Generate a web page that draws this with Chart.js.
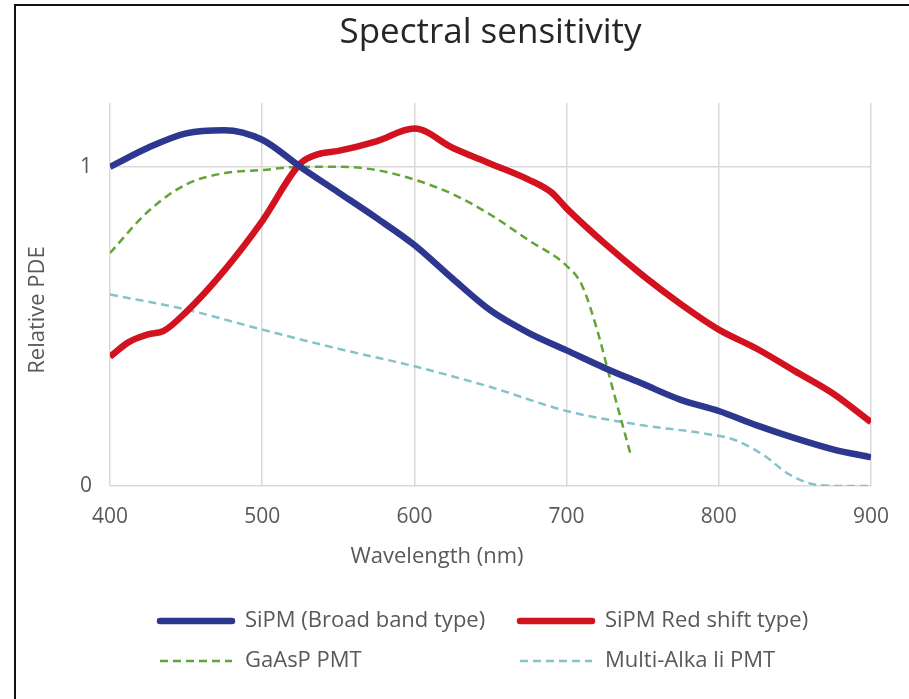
<!DOCTYPE html>
<html lang="en">
<head>
    <meta charset="UTF-8">
    <title>Spectral sensitivity</title>
    <script src="https://cdn.jsdelivr.net/npm/chart.js@4.4.0/dist/chart.umd.min.js"></script>
    <style>
        body { margin: 0; background: #fff; }
        #wrap { position: relative; width: 909px; height: 699px; }
        #frame { position: absolute; left: 14px; top: 4px; width: 900px; height: 700px;
                 border-left: 2px solid #111; border-top: 2px solid #111; pointer-events: none; }
    </style>
</head>
<body>
    <div id="wrap">
        <canvas id="chart"></canvas>
        <div id="frame"></div>
    </div>

    <script>
        var chartTitle = 'Spectral sensitivity';
        var xTitle = 'Wavelength (nm)';
        var yTitle = 'Relative PDE';
        var yTicks = [0, 1];

        var broadWl   = [400, 425, 450, 475, 500, 525, 550, 575, 600, 625, 650, 675, 700, 725, 750, 775, 800, 825, 850, 875, 900];
        var broadPde  = [1.0, 1.06, 1.105, 1.115, 1.085, 1.0, 0.92, 0.84, 0.755, 0.65, 0.55, 0.48, 0.425, 0.37, 0.32, 0.27, 0.235, 0.19, 0.15, 0.115, 0.09];

        var redWl     = [400, 412, 425, 435, 450, 475, 500, 525, 537, 550, 575, 600, 625, 650, 675, 690, 700, 725, 750, 775, 800, 825, 850, 875, 900];
        var redPde    = [0.405, 0.45, 0.475, 0.485, 0.545, 0.675, 0.83, 1.01, 1.04, 1.05, 1.08, 1.12, 1.06, 1.01, 0.96, 0.92, 0.87, 0.76, 0.66, 0.57, 0.49, 0.43, 0.36, 0.29, 0.2];

        var gaaspWl   = [400, 425, 450, 475, 500, 525, 550, 575, 600, 625, 650, 675, 700, 710, 720, 730, 742];
        var gaaspPde  = [0.73, 0.86, 0.945, 0.98, 0.99, 1.0, 1.0, 0.99, 0.96, 0.915, 0.85, 0.77, 0.69, 0.63, 0.49, 0.31, 0.1];

        var alkaliWl  = [400, 450, 500, 550, 600, 650, 700, 750, 790, 810, 830, 845, 860, 880, 900];
        var alkaliPde = [0.6, 0.553, 0.49, 0.43, 0.375, 0.31, 0.235, 0.19, 0.165, 0.145, 0.095, 0.04, 0.008, 0, 0];

        function toPoints(xs, ys) {
            return xs.map(function(x, i) { return { x: x, y: ys[i] }; });
        }

        Chart.defaults.font.family = '"Open Sans", sans-serif';
        Chart.defaults.color = '#595959';

        // axis titles and the two-column legend are drawn here
        var extras = {
            id: 'extras',
            afterDraw: function(chart) {
                var ctx = chart.ctx;
                ctx.save();
                ctx.fillStyle = '#595959';
                ctx.font = '22px "Open Sans", sans-serif';
                ctx.textAlign = 'center';
                ctx.textBaseline = 'middle';
                ctx.fillText(xTitle, 437, 557);

                ctx.save();
                ctx.translate(38, 310);
                ctx.rotate(-Math.PI / 2);
                ctx.fillText(yTitle, 0, 0);
                ctx.restore();

                ctx.textAlign = 'left';
                chart.data.datasets.forEach(function(ds, i) {
                    var x0 = (i % 2 === 0) ? 160 : 520;
                    var y = 621 + Math.floor(i / 2) * 40;
                    ctx.strokeStyle = ds.borderColor;
                    ctx.lineWidth = ds.borderWidth;
                    ctx.lineCap = ds.borderDash ? 'butt' : 'round';
                    ctx.setLineDash(ds.borderDash || []);
                    ctx.beginPath();
                    ctx.moveTo(x0, y);
                    ctx.lineTo(x0 + 72, y);
                    ctx.stroke();
                    ctx.fillStyle = '#595959';
                    ctx.fillText(ds.label, x0 + 85, y);
                });
                ctx.restore();
            }
        };

        new Chart(document.getElementById('chart'), {
            type: 'line',
            data: {
                datasets: [
                    {
                        label: 'SiPM (Broad band type)',
                        data: toPoints(broadWl, broadPde),
                        borderColor: '#2e3790',
                        borderWidth: 6.5
                    },
                    {
                        label: 'SiPM Red shift type)',
                        data: toPoints(redWl, redPde),
                        borderColor: '#d3121f',
                        borderWidth: 6.5
                    },
                    {
                        label: 'GaAsP PMT',
                        data: toPoints(gaaspWl, gaaspPde),
                        borderColor: '#62a435',
                        borderWidth: 2.5,
                        borderDash: [8, 5]
                    },
                    {
                        label: 'Multi-Alka li PMT',
                        data: toPoints(alkaliWl, alkaliPde),
                        borderColor: '#84c3c9',
                        borderWidth: 2.5,
                        borderDash: [8, 5]
                    }
                ]
            },
            options: {
                responsive: true,
                maintainAspectRatio: false,
                animation: false,
                elements: {
                    point: { radius: 0 },
                    line: { cubicInterpolationMode: 'monotone' }
                },
                layout: { padding: { left: 50, right: 38, top: 0, bottom: 153 } },
                plugins: {
                    legend: { display: false },
                    tooltip: { enabled: false },
                    title: {
                        display: true,
                        text: chartTitle,
                        fullSize: false,
                        color: '#262626',
                        font: { size: 35, weight: 'normal' },
                        padding: { top: 12, bottom: 49 }
                    }
                },
                scales: {
                    x: {
                        type: 'linear',
                        min: 400,
                        max: 900,
                        afterFit: function(scale) { scale.height = 60; },
                        ticks: { stepSize: 100, padding: 18, font: { size: 21 } },
                        grid: { color: '#d9d9d9', lineWidth: 1.5, drawTicks: false },
                        border: { display: false }
                    },
                    y: {
                        min: 0,
                        max: 1.2,
                        afterBuildTicks: function(scale) {
                            scale.ticks = yTicks.map(function(v) { return { value: v }; });
                        },
                        afterFit: function(scale) { scale.width = 60; },
                        ticks: { padding: 18, font: { size: 21 } },
                        grid: { color: '#d9d9d9', lineWidth: 1.5, drawTicks: false },
                        border: { display: false }
                    }
                }
            },
            plugins: [extras]
        });
    </script>
</body>
</html>
